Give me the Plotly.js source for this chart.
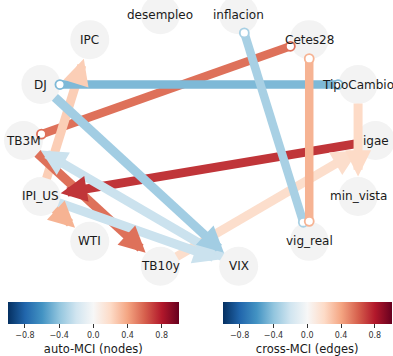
<!DOCTYPE html>
<html><head><meta charset="utf-8">
<script src="https://cdn.plot.ly/plotly-3.0.1.min.js"></script>
<style>html,body{margin:0;padding:0;background:#fff}</style>
</head><body><div id="chart" style="width:393px;height:356px"></div>
<script>
// ---- data ----
const nodeNames = ['igae','TipoCambio','Cetes28','inflacion','desempleo','IPC','DJ','TB3M','IPI_US','WTI','TB10y','VIX','vig_real','min_vista'];
const edgeFrom  = ['TB3M','igae','IPI_US','TB10y','TB3M','IPI_US','VIX','IPI_US','DJ','TipoCambio','DJ','inflacion','Cetes28'];
const edgeTo    = ['Cetes28','IPI_US','IPC','igae','TB10y','WTI','TB3M','VIX','VIX','min_vista','TipoCambio','vig_real','vig_real'];
const edgeValue = [0.55, 0.72, 0.25, 0.18, 0.55, 0.35, -0.22, -0.22, -0.35, 0.2, -0.45, -0.33, 0.35];
const edgeKind  = ['contemp','lag','lag','lag','lag','lag','lag','lag','lag','lag','contemp','contemp','contemp'];
const cbTickVals = [-0.8, -0.4, 0, 0.4, 0.8];
const cbTickText = ['\u22120.8', '\u22120.4', '0.0', '0.4', '0.8'];
const cbTitles = ['auto-MCI (nodes)', 'cross-MCI (edges)'];

// ---- styles / layout helpers ----
const W = 393, H = 356;
const cx = 199.5, cy = 140.5, rx = 176, ry = 129;
const rdbu = ['#053061','#2166ac','#4393c3','#92c5de','#d1e5f0','#f7f7f7','#fddbc7','#f4a582','#d6604d','#b2182b','#67001f'];
const colorscale = rdbu.map((c, i) => [i / 10, c]);
function hex2rgb(h){return [1,3,5].map(i=>parseInt(h.substr(i,2),16));}
function colorOf(v){
  const t = Math.max(0, Math.min(1, (v + 1) / 2)) * 10;
  const i = Math.min(9, Math.floor(t)), f = t - i;
  const a = hex2rgb(rdbu[i]), b = hex2rgb(rdbu[i+1]);
  return 'rgb(' + a.map((x,k)=>Math.round(x + (b[k]-x)*f)).join(',') + ')';
}
const pos = {};
nodeNames.forEach((n, i) => {
  const ang = 2 * Math.PI * i / nodeNames.length;
  pos[n] = [cx + rx * Math.cos(ang), cy - ry * Math.sin(ang)];
});

const traces = [];
const annotations = [];
// nodes
traces.push({
  type: 'scatter', mode: 'markers', hoverinfo: 'skip',
  x: nodeNames.map(n => pos[n][0]), y: nodeNames.map(n => pos[n][1]),
  marker: {size: 39, color: '#f3f3f3', line: {width: 0}}
});
const tailOff = 19, tipOff = 20, headLen = 19;
edgeFrom.forEach((s, k) => {
  const a = pos[s], b = pos[edgeTo[k]];
  const dx = b[0] - a[0], dy = b[1] - a[1], L = Math.hypot(dx, dy);
  const ux = dx / L, uy = dy / L;
  const col = colorOf(edgeValue[k]);
  const p0 = [a[0] + ux * tailOff, a[1] + uy * tailOff];
  const p1 = [b[0] - ux * tipOff, b[1] - uy * tipOff];
  if (edgeKind[k] === 'contemp') {
    traces.push({
      type: 'scatter', mode: 'lines+markers', hoverinfo: 'skip', cliponaxis: false,
      x: [p0[0], p1[0]], y: [p0[1], p1[1]],
      line: {color: col, width: 8.5},
      marker: {size: 9, color: '#ffffff', line: {color: col, width: 1.8}}
    });
  } else {
    const pe = [p1[0] - ux * (headLen - 5), p1[1] - uy * (headLen - 5)];
    traces.push({
      type: 'scatter', mode: 'lines', hoverinfo: 'skip', cliponaxis: false,
      x: [p0[0], pe[0]], y: [p0[1], pe[1]],
      line: {color: col, width: 9}
    });
    annotations.push({
      x: p1[0], y: p1[1], ax: p1[0] - ux * headLen, ay: p1[1] - uy * headLen,
      xref: 'x', yref: 'y', axref: 'x', ayref: 'y', text: '', showarrow: true,
      arrowhead: 2, arrowsize: 0.58, arrowwidth: 9, arrowcolor: col, standoff: 0, startstandoff: 0
    });
  }
});
nodeNames.forEach(n => {
  annotations.push({
    x: pos[n][0], y: pos[n][1], xref: 'x', yref: 'y', text: n, showarrow: false,
    xanchor: 'center', yanchor: 'middle',
    font: {family: 'DejaVu Sans', size: 12, color: '#1a1a1a'}
  });
});
// colorbars
const cbCenters = [93.3, 307.2], cbLens = [171, 169];
cbTitles.forEach((t, i) => {
  traces.push({
    type: 'scatter', mode: 'markers', hoverinfo: 'skip',
    x: [-100, -100], y: [-100, -100],
    marker: {
      color: [-1, 1], cmin: -1, cmax: 1, colorscale: colorscale, showscale: true, size: 1,
      colorbar: {
        orientation: 'h', x: cbCenters[i] / W, xanchor: 'center',
        len: cbLens[i], lenmode: 'pixels', thickness: 22, thicknessmode: 'pixels',
        y: 1 - 302 / H, yanchor: 'top', ypad: 0, xpad: 0, outlinewidth: 0,
        tickmode: 'array', tickvals: cbTickVals, ticktext: cbTickText,
        ticks: 'outside', ticklen: 4.5, tickwidth: 1, tickcolor: '#333',
        tickfont: {family: 'DejaVu Sans', size: 8, color: '#333'},
        title: {text: t, side: 'bottom', font: {family: 'DejaVu Sans', size: 11.5, color: '#1a1a1a'}}
      }
    }
  });
});

const layout = {
  width: W, height: H, margin: {l: 0, r: 0, t: 0, b: 0},
  paper_bgcolor: '#ffffff', plot_bgcolor: '#ffffff', showlegend: false,
  xaxis: {range: [0, W], visible: false, fixedrange: true},
  yaxis: {range: [H, 0], visible: false, fixedrange: true},
  annotations: annotations
};
Plotly.newPlot('chart', traces, layout, {staticPlot: true, displayModeBar: false});
</script>
</body></html>
